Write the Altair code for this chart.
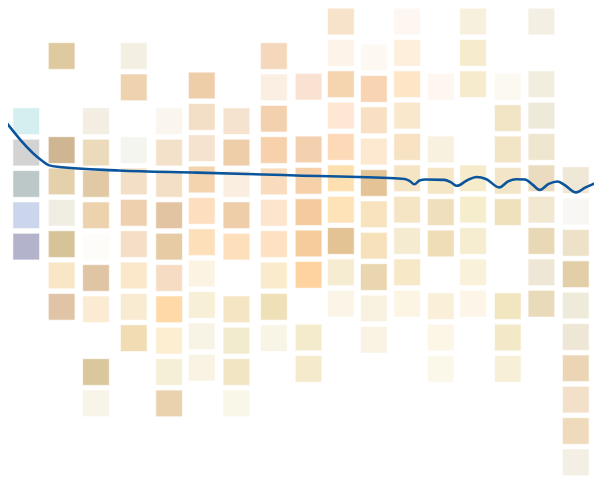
import altair as alt
import pandas as pd

# column positions (column units) and vertical shift of each column (row units)
col_pos = [1.00, 2.03, 3.03, 4.13, 5.16, 6.11, 7.12, 8.21, 9.22, 10.16,
           11.12, 12.09, 13.07, 14.01, 15.02, 16.00, 17.00]
col_shift = [0.18, 0.10, 0.18, 0.10, 0.18, 0.04, 0.18, 0.10, 0.08, 0.00,
             0.15, 0.00, 0.08, 0.00, 0.08, 0.00, 0.06]

# occupied rows of each column
col_rows = [
    [3, 4, 5, 6, 7],
    [1, 4, 5, 6, 7, 8, 9],
    [3, 4, 5, 6, 7, 8, 9, 11, 12],
    [1, 2, 4, 5, 6, 7, 8, 9, 10],
    [3, 4, 5, 6, 7, 8, 9, 10, 11, 12],
    [2, 3, 4, 5, 6, 7, 8, 9, 10, 11],
    [3, 4, 5, 6, 7, 9, 10, 11, 12],
    [1, 2, 3, 4, 5, 6, 7, 8, 9, 10],
    [2, 4, 5, 6, 7, 8, 10, 11],
    [0, 1, 2, 3, 4, 5, 6, 7, 8, 9],
    [1, 2, 3, 4, 5, 6, 7, 8, 9, 10],
    [0, 1, 2, 3, 4, 5, 6, 7, 8, 9],
    [2, 4, 5, 6, 7, 9, 10, 11],
    [0, 1, 2, 5, 6, 7, 8, 9],
    [2, 3, 4, 5, 6, 9, 10, 11],
    [0, 2, 3, 4, 5, 6, 7, 8, 9],
    [5, 6, 7, 8, 9, 10, 11, 12, 13, 14],
]

# colour of each cell, top to bottom
col_colors = [
    ["#d5eef0", "#d3d3d3", "#bcc8c8", "#cbd5ec", "#b3b3cc"],
    ["#dfc9a0", "#cfb591", "#e4d0aa", "#f0ede2", "#d6c398", "#f8e6c6", "#e1c4a6"],
    ["#f3ede2", "#ebdbbb", "#e2c9a5", "#edd2ae", "#fdfcf9", "#e0c5a5", "#fbebd2", "#dbc79c", "#f8f4e7"],
    ["#f3efe3", "#eed3ae", "#f5f5f0", "#f3dfc6", "#efd0ae", "#f5dec6", "#fbe7c9", "#f8ebd2", "#f2dcb4"],
    ["#faf5ee", "#f4e1c9", "#f3dfc6", "#e2c3a2", "#e7cba5", "#f6dcc2", "#ffd9a8", "#fdedd1", "#f6efd7", "#ebd2af"],
    ["#eecda9", "#f3dfc5", "#f5e3cf", "#f3d4af", "#fddfc0", "#fddfb9", "#fdf3e3", "#f7efd6", "#f8f4e5", "#f8f3e3"],
    ["#f6e3cf", "#eecda9", "#faeee0", "#eecda9", "#fde0bb", "#f6e5c3", "#f2ebcd", "#f2e5c4", "#f9f7e8"],
    ["#f5d8bb", "#fbefe3", "#f3d1ae", "#f7d1ac", "#f9dcbd", "#fde4cd", "#fee1c0", "#f9ebcc", "#efe0b8", "#f8f5e6"],
    ["#f9e2d1", "#f3d1ae", "#f6d0a8", "#f5ca9e", "#f6cc9c", "#fed3a0", "#f4ebcd", "#f5eacc"],
    ["#f7e2ca", "#fdf3e8", "#f5d4b0", "#fee7d3", "#fdd9b8", "#fee0b0", "#fee2b8", "#e3c293", "#f5ecd2", "#faf5e6"],
    ["#fef8f3", "#f8d4b2", "#f9e0c4", "#fde8d0", "#e4c496", "#f7e3bd", "#f7e1bb", "#ead6ae", "#f9f2e0", "#faf3e3"],
    ["#fef6f0", "#fdefdc", "#fde5c5", "#fae8cc", "#f7e2c2", "#f6e5c4", "#f6e5c4", "#f5ebd1", "#f7e8c8", "#fcf5e4"],
    ["#fef6f1", "#f9f1df", "#f5e6c6", "#f0dfbc", "#efddb5", "#faf0da", "#fcf6e6", "#fcf8e9"],
    ["#f7f0dc", "#f6ebcd", "#f6ebcd", "#f6eccc", "#f6edcd", "#f6edd0", "#f9f1da", "#fdf6e8"],
    ["#fcf9f1", "#f2e5c6", "#f2e5c6", "#f3e6c8", "#f0e1bd", "#f2e6c1", "#f3e9c8", "#f7efd8"],
    ["#f3efe3", "#f1eedf", "#eeead9", "#efe6cf", "#ecdcbf", "#f2e8d2", "#e9d8b5", "#eee7d5", "#e9dab9"],
    ["#f0e8d6", "#f8f7f3", "#ede2c8", "#e2cfa8", "#efebdb", "#eee7d6", "#ebd5b5", "#f2e0c8", "#efdbbb", "#f3efe4"],
]

# line series (x in column units, y in row units)
line_x = [0.24, 1.47, 1.65, 1.96, 3.69, 5.98, 8.86, 11.73, 12.02, 12.16, 12.30,
          12.45, 12.62, 13.17, 13.37, 13.54, 13.83, 14.11, 14.40, 14.77, 15.03,
          15.26, 15.52, 15.75, 15.95, 16.21, 16.47, 16.67, 17.01, 17.27, 17.53, 17.76]
line_y = [2.97, 4.45, 4.58, 4.64, 4.75, 4.82, 4.91, 5.00, 5.02, 5.08, 5.19,
          5.07, 5.04, 5.05, 5.13, 5.24, 5.07, 4.96, 5.03, 5.29, 5.10,
          5.03, 5.04, 5.21, 5.37, 5.18, 5.10, 5.21, 5.45, 5.30, 5.17, 5.02]

cells = []
for ci in range(len(col_pos)):
    for r, c in zip(col_rows[ci], col_colors[ci]):
        cells.append({"x": col_pos[ci], "y": r + col_shift[ci], "color": c})
cells_df = pd.DataFrame(cells)
line_df = pd.DataFrame({"x": line_x, "y": line_y, "i": list(range(len(line_x)))})

W, H = 594, 470
xscale = alt.Scale(domain=[0.4686, 17.531], nice=False, zero=False)
yscale = alt.Scale(domain=[-0.3304, 14.459], nice=False, zero=False, reverse=True)

squares = alt.Chart(cells_df).mark_square(
    size=729, opacity=1, stroke="white", strokeWidth=1, strokeOpacity=0.6
).encode(
    x=alt.X("x:Q", scale=xscale, axis=None),
    y=alt.Y("y:Q", scale=yscale, axis=None),
    color=alt.Color("color:N", scale=None),
)

line = alt.Chart(line_df).mark_line(
    color="#0a559b", strokeWidth=2.6, interpolate="monotone", clip=True
).encode(
    x=alt.X("x:Q", scale=xscale, axis=None),
    y=alt.Y("y:Q", scale=yscale, axis=None),
    order="i:Q",
)

chart = (squares + line).properties(
    width=W, height=H, padding=0, autosize=alt.AutoSizeParams(type="none")
).configure_view(stroke=None)

chart.save("out.html", embed_options={"renderer": "svg", "actions": False})
